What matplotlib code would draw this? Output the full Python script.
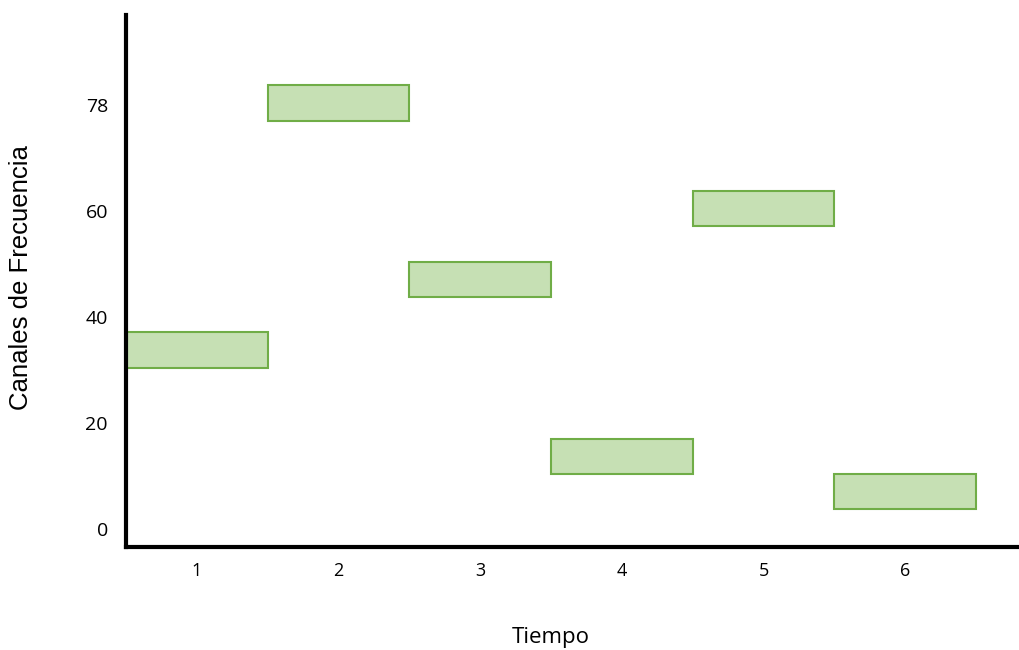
import matplotlib
matplotlib.use("Agg")
import matplotlib.pyplot as plt

# Data
tiempos = [1, 2, 3, 4, 5, 6]
canal_bajo = [30.4, 77.0, 43.8, 10.4, 57.2, 3.8]
canal_alto = [37.2, 83.8, 50.4, 17.0, 63.8, 10.4]
ytick_pos = [0, 20, 40, 60, 80]
ytick_labels = ["0", "20", "40", "60", "78"]
xlabel = "Tiempo"
ylabel = "Canales de Frecuencia"

fig = plt.figure(figsize=(10.2, 6.5), dpi=100)
ax = fig.add_axes([126/1020, (650-547)/650, (1020-126)/1020, (547-15)/650])

heights = [h - l for l, h in zip(canal_bajo, canal_alto)]
lefts = [t - 0.5 for t in tiempos]
ax.bar(lefts, heights, width=1.0, bottom=canal_bajo, align="edge",
       color="#C6E0B4", edgecolor="#70AD47", linewidth=1.5, zorder=2)

ax.set_xlim(0.5, 6.81)
ax.set_ylim(-3.4, 97)

ax.set_xticks(tiempos)
ax.set_xticklabels([str(t) for t in tiempos], family="Open Sans", fontsize=13)
ax.set_yticks(ytick_pos)
ax.set_yticklabels(ytick_labels, family="Open Sans", fontsize=14)
ax.tick_params(axis="both", length=0)
ax.tick_params(axis="x", pad=11)
ax.tick_params(axis="y", pad=13)

for s in ["top", "right"]:
    ax.spines[s].set_visible(False)
for s in ["left", "bottom"]:
    ax.spines[s].set_linewidth(3)
    ax.spines[s].set_color("black")

fig.text(551/1020, 1 - 637/650, xlabel, family="Open Sans", fontsize=16,
         ha="center", va="center")
fig.text(21/1020, 1 - 278/650, ylabel, family="Liberation Sans", fontsize=18.5,
         ha="center", va="center", rotation=90)

fig.savefig("out.png", dpi=100)
